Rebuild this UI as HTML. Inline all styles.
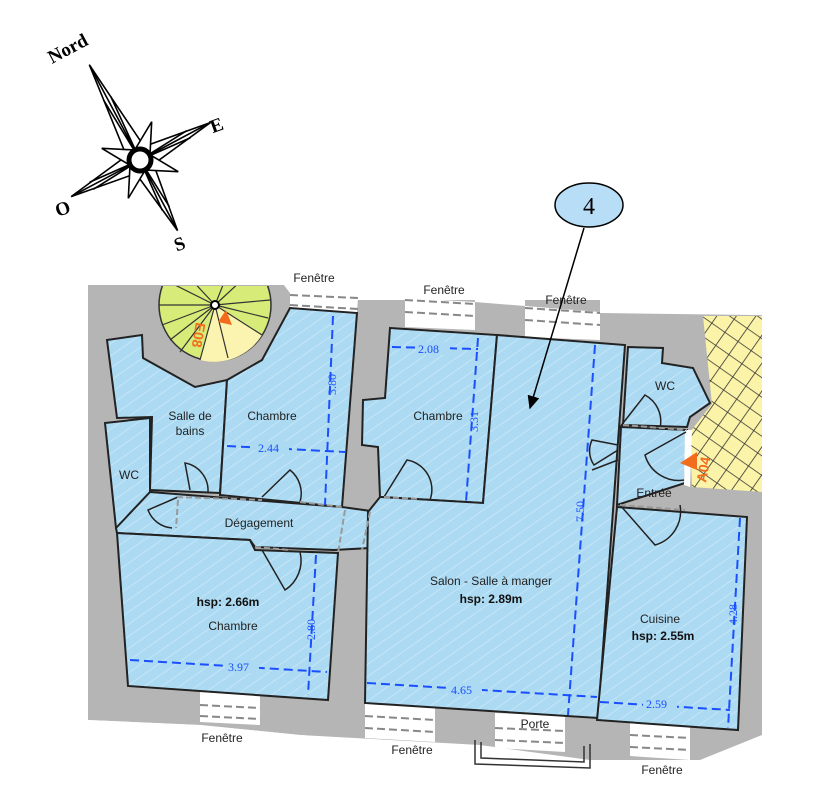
<!DOCTYPE html>
<html><head><meta charset="utf-8"><style>
html,body{margin:0;padding:0;background:#fff;}
svg{display:block;}
.s{font-family:"Liberation Sans",sans-serif;}
.r{font-family:"Liberation Serif",serif;}
</style></head><body>
<svg width="835" height="800" viewBox="0 0 835 800" xmlns="http://www.w3.org/2000/svg">
<defs>
<pattern id="grid" width="16" height="16" patternUnits="userSpaceOnUse" patternTransform="rotate(35)">
<rect width="16" height="16" fill="#fbf3a8"/>
<path d="M0 0H16M0 0V16" stroke="#333" stroke-width="1.6"/>
</pattern>
<pattern id="hatch" width="10" height="10" patternUnits="userSpaceOnUse" patternTransform="rotate(-35)">
<rect width="10" height="10" fill="#acdaf2"/>
<path d="M0 5H10" stroke="#c4e5f6" stroke-width="1"/>
</pattern>
<marker id="ah" markerWidth="10" markerHeight="10" refX="8" refY="5" orient="auto"><path d="M0 1L9 5L0 9z" fill="#000"/></marker>
</defs>

<polygon points="88,285 290,285 290,300 762,300 762,735 700,760 590,760 480,745 300,735 200,725 88,720" fill="#b5b5b5"/>
<polygon points="280,280 835,280 835,316 600,313 600,300 525,300 525,306 475,302 475,300 405,298 405,298 358,296 358,297 290,293" fill="#fff"/>
<polygon points="290,293 358,297 357,313 290,308" fill="#fff"/>
<polygon points="405,298 475,302 475,330 405,327" fill="#fff"/>
<polygon points="525,306 600,312 600,340 525,337" fill="#fff"/>
<g stroke="#888" stroke-width="2" stroke-dasharray="8,4" fill="none">
<path d="M290,295 L358,298 M290,305 L358,309"/>
<path d="M405,300 L475,304 M405,312 L475,316"/>
<path d="M525,308 L600,313 M525,320 L600,325"/>
</g>
<polygon points="200,692 260,696 260,725 200,722" fill="#fff"/>
<polygon points="365,703 435,708 435,742 365,738" fill="#fff"/>
<polygon points="495,713 565,716 565,752 495,748" fill="#fff"/>
<polygon points="630,720 690,724 690,760 630,756" fill="#fff"/>
<polygon points="88,720 200,725 300,735 480,748 590,762 700,762 762,738 762,800 88,800" fill="#fff"/>
<g stroke="#888" stroke-width="2" stroke-dasharray="8,4" fill="none">
<path d="M200,705 L260,708 M200,716 L260,719"/>
<path d="M365,716 L435,720 M365,728 L435,732"/>
<path d="M495,728 L565,731 M495,740 L565,743"/>
<path d="M630,735 L690,738 M630,747 L690,750"/>
</g>
<path d="M475,740 L475,764 L590,768 L590,744 M481,742 L481,758 L584,762 L584,746" stroke="#333" stroke-width="1.5" fill="none"/>

<polygon points="703,316 762,316 762,492 692,487 690,432 712,404" fill="url(#grid)"/>
<clipPath id="cp"><rect x="80" y="286" width="300" height="200"/></clipPath>
<g clip-path="url(#cp)">
<circle cx="215" cy="305" r="56" fill="#d7ec78" stroke="#333" stroke-width="1.5"/>
<path d="M215,305 L200,360 A56,56 0 0 0 262,335 Z" fill="#fbf3b0"/>
<g stroke="#333" stroke-width="1.2">
<path d="M215,305 L159,305 M215,305 L165,280 M215,305 L175,262 M215,305 L162,325 M215,305 L170,340 M215,305 L270,300 M215,305 L268,318 M215,305 L262,335 M215,305 L255,268 M215,305 L235,255 M215,305 L200,360 M215,305 L228,358 M215,305 L180,352"/>
</g>
<circle cx="215" cy="305" r="4" fill="#fff" stroke="#000" stroke-width="2"/>
</g>
<polygon points="218,322 226,310 232,325" fill="#f36b1c"/>
<text class="s" transform="translate(196,322) rotate(100)" font-size="14" font-weight="bold" fill="#f36b1c">E08</text>

<g fill="url(#hatch)" stroke="#222" stroke-width="2">
<polygon points="107,340 142,335 143,358 195,387 227,380 220,493 150,490 152,417 117,418"/>
<polygon points="105,423 150,418 150,492 177,495 180,528 116,528"/>
<polygon points="227,380 262,360 290,308 357,313 342,507 220,495"/>
<polygon points="116,528 150,492 342,507 378,512 370,548 334,550 255,547 250,540 117,533" />
<polygon points="117,533 250,540 255,550 338,553 328,700 128,686"/>
<polygon points="390,328 497,335 483,503 380,497 378,447 362,445 363,400 385,398"/>
<polygon points="497,335 625,345 598,718 365,703 368,512 380,497 483,503"/>
<polygon points="628,347 663,348 662,363 693,368 710,403 690,417 687,427 623,425"/>
<polygon points="621,427 687,430 685,483 617,505"/>
<polygon points="617,507 747,517 738,730 597,720"/>
</g>
<polygon points="685,430 692,430 690,487 684,485" fill="#fff"/>
<polygon points="680,463 697,452 697,470" fill="#f36b1c"/>
<text class="s" transform="translate(706,483) rotate(-80)" font-size="14" font-weight="bold" fill="#f36b1c">A04</text>

<g stroke="#222" stroke-width="1.5" fill="none">
<path d="M190,490 L185,463 A28,28 0 0 1 208,492"/>
<path d="M262,497 L290,470 A30,30 0 0 1 300,502"/>
<path d="M384,497 L407,460 A30,30 0 0 1 430,500"/>
<path d="M178,497 L148,510 A28,28 0 0 0 172,528"/>
<path d="M262,550 L285,590 A35,35 0 0 0 300,552"/>
<path d="M620,427 L645,395 A30,30 0 0 1 660,428"/>
<path d="M618,445 L592,440 A25,25 0 0 0 594,465 L618,450"/>
<path d="M618,460 L592,470"/>
<path d="M686,432 L645,455 A35,35 0 0 0 684,480"/>
<path d="M620,505 L655,545 A35,35 0 0 0 680,505"/>
</g>
<g stroke="#999" stroke-width="2" stroke-dasharray="6,3" fill="none">
<path d="M177,497 L262,500 M300,502 L342,507"/>
<path d="M384,497 L420,499"/>
<path d="M623,425 L687,430"/>
<path d="M620,505 L685,510"/>
<path d="M345,510 L338,553 M370,512 L362,550"/>
<path d="M178,500 L176,528"/>
<path d="M255,547 L290,550"/>
</g>

<g stroke="#1a4fff" stroke-width="2" stroke-dasharray="9,5" fill="none">
<path d="M333,316 L325,505"/>
<path d="M227,446 L345,452"/>
<path d="M392,347 L478,349"/>
<path d="M478,338 L466,502"/>
<path d="M595,345 L568,715"/>
<path d="M367,683 L597,697"/>
<path d="M316,555 L308,695"/>
<path d="M130,660 L327,672"/>
<path d="M740,518 L728,728"/>
<path d="M600,702 L730,710"/>
</g>
<g class="r" font-size="12" fill="#1a4fff">
<rect x="255" y="441" width="34" height="13" fill="#acdaf2"/><text x="258" y="452">2.44</text>
<rect x="416" y="342" width="34" height="13" fill="#acdaf2"/><text x="418" y="353">2.08</text>
<rect x="448" y="683" width="34" height="13" fill="#acdaf2"/><text x="451" y="694">4.65</text>
<rect x="225" y="660" width="34" height="13" fill="#acdaf2"/><text x="228" y="671">3.97</text>
<rect x="643" y="698" width="34" height="13" fill="#acdaf2"/><text x="646" y="708">2.59</text>
<text transform="translate(336,395) rotate(-90)">3.80</text>
<text transform="translate(478,432) rotate(-90)">3.31</text>
<text transform="translate(584,522) rotate(-90)">7.50</text>
<text transform="translate(315,640) rotate(-90)">2.80</text>
<text transform="translate(737,625) rotate(-90)">4.28</text>
</g>

<g class="s" font-size="12" fill="#222" text-anchor="middle">
<text x="190" y="420">Salle de</text><text x="190" y="435">bains</text>
<text x="272" y="420">Chambre</text>
<text x="438" y="420">Chambre</text>
<text x="129" y="479">WC</text>
<text x="259" y="527">Dégagement</text>
<text x="233" y="630">Chambre</text>
<text x="491" y="585">Salon - Salle à manger</text>
<text x="665" y="390">WC</text>
<text x="654" y="497">Entrée</text>
<text x="660" y="623">Cuisine</text>
<text x="314" y="282">Fenêtre</text>
<text x="444" y="294">Fenêtre</text>
<text x="566" y="304">Fenêtre</text>
<text x="222" y="742">Fenêtre</text>
<text x="412" y="754">Fenêtre</text>
<text x="535" y="728">Porte</text>
<text x="662" y="774">Fenêtre</text>
</g>
<g class="s" font-size="12" font-weight="bold" fill="#111" text-anchor="middle">
<text x="228" y="606">hsp: 2.66m</text>
<text x="491" y="603">hsp: 2.89m</text>
<text x="663" y="640">hsp: 2.55m</text>
</g>

<line x1="584" y1="228" x2="530" y2="408" stroke="#000" stroke-width="1.5" marker-end="url(#ah)"/>
<ellipse cx="589" cy="205" rx="34" ry="22" fill="#b7def6" stroke="#000" stroke-width="1.5"/>
<text class="r" x="589" y="214" font-size="24" text-anchor="middle">4</text>

<g stroke="#000" stroke-width="1.6" fill="#fff">
<g transform="translate(140,160) rotate(-28)">
<polygon points="0,-108 10,-10 0,0 -10,-10"/>
<polygon points="0,80 10,10 0,0 -10,10"/>
<polygon points="80,0 10,10 0,0 10,-10"/>
<polygon points="-78,0 -10,10 0,0 -10,-10"/>
<g transform="rotate(45)">
<polygon points="0,-40 8,-8 -8,-8"/><polygon points="0,40 8,8 -8,8"/>
<polygon points="40,0 8,8 8,-8"/><polygon points="-40,0 -8,8 -8,-8"/>
</g>
<path d="M0,-105 L0,0 M4,-70 L0,0 M-4,-70 L0,0 M0,75 L0,0 M4,55 L0,0 M-4,55 L0,0 M75,0 L0,0 M55,4 L0,0 M55,-4 L0,0 M-75,0 L0,0 M-55,4 L0,0 M-55,-4 L0,0" fill="none"/>
</g>
<circle cx="140" cy="160" r="11" fill="#fff" stroke="#000" stroke-width="5"/>
</g>
<g class="r" font-weight="bold" font-size="19" fill="#000">
<text transform="translate(52,64) rotate(-28)">Nord</text>
<text x="210" y="132" transform="rotate(-20 215 125)">E</text>
<text x="55" y="215" transform="rotate(-20 62 208)">O</text>
<text x="174" y="250" transform="rotate(-20 180 243)">S</text>
</g>
</svg>
</body></html>
